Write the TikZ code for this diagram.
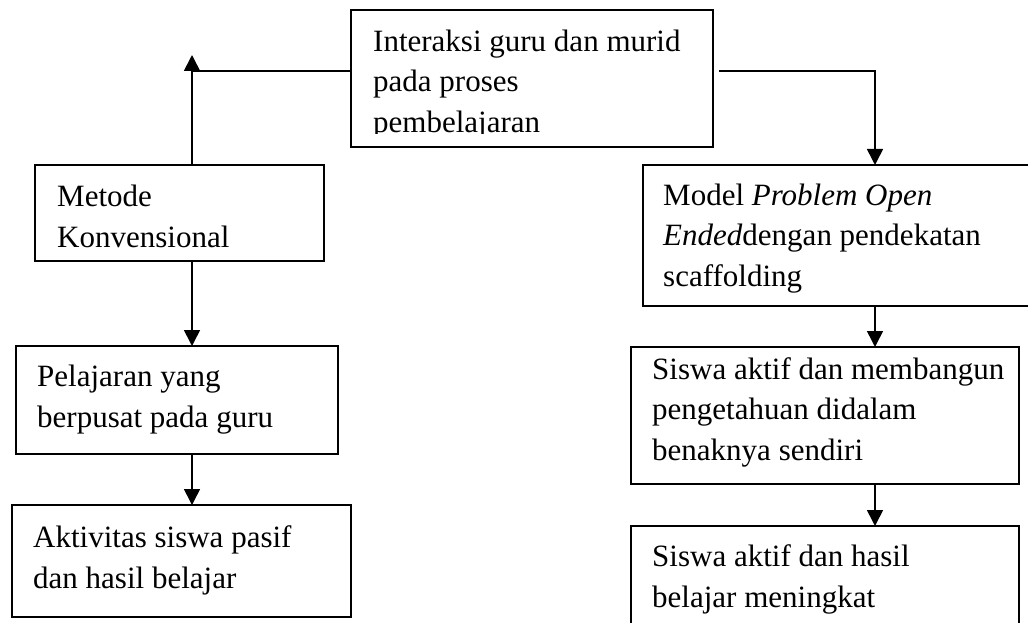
\documentclass[tikz,border=0pt]{standalone}
\usepackage{fontspec}
\setmainfont{Liberation Serif}
\usepackage{tikz}
\usetikzlibrary{arrows.meta,positioning,calc}
\tikzset{
  box/.style={draw,line width=1.6pt,anchor=north west,inner sep=0pt,outer sep=0pt},
  txt/.style={anchor=base west,align=left,inner sep=0pt,
    font=\fontsize{31}{40.5}\selectfont},
  flow/.style={-{Triangle[length=16pt,width=16pt]},line width=1.6pt},
  line/.style={line width=1.6pt}
}
\begin{document}
\begin{tikzpicture}[x=1pt,y=-1pt]
  \useasboundingbox (0,0) rectangle (1028,623);
  % Top box (last line baseline given)
  \node[box,minimum width=362pt,minimum height=137pt] (top) at (351,10) {};
  \begin{scope}
    \clip (top.north west) rectangle ($(top.south east)+(0,-13)$);
    \node[txt] (toptxt) at ($(top.north west)+(22,122)$)
      {Interaksi guru dan murid\\pada proses\\pembelajaran};
  \end{scope}
  % Left branch
  \node[box,minimum width=289pt,minimum height=96pt] (metode) at (35,165) {};
  \node[txt] (metodetxt) at ($(metode.north west)+(22,82)$)
    {Metode\\Konvensional};
  \node[box,minimum width=322pt,minimum height=108pt] (pelajaran) at (16,346) {};
  \node[txt] (pelajarantxt) at ($(pelajaran.north west)+(21,81)$)
    {Pelajaran yang\\berpusat pada guru};
  \node[box,minimum width=339pt,minimum height=112pt] (aktivitas) at (12,505) {};
  \node[txt] (aktivitastxt) at ($(aktivitas.north west)+(21,83)$)
    {Aktivitas siswa pasif\\dan hasil belajar};
  % Right branch
  \node[box,minimum width=400pt,minimum height=141pt] (model) at (643,165) {};
  \node[txt] (modeltxt) at ($(model.north west)+(20,121)$)
    {Model \textit{Problem Open}\\\textit{Ended}dengan pendekatan\\scaffolding};
  \node[box,minimum width=388pt,minimum height=137pt] (siswa) at (631,347) {};
  \node[txt] (siswatxt) at ($(siswa.north west)+(21,113)$)
    {Siswa aktif dan membangun\\pengetahuan didalam\\benaknya sendiri};
  \node[box,minimum width=388pt,minimum height=130pt] (hasil) at (631,526) {};
  \node[txt] (hasiltxt) at ($(hasil.north west)+(21,81)$)
    {Siswa aktif dan hasil\\belajar meningkat};
  % Connectors
  \coordinate (uptip) at (192,55);
  \coordinate (lj) at (192,71);
  \coordinate (rj) at (875,71);
  \draw[line] (top.west |- lj) -- (lj);
  \draw[flow,{Triangle[length=16pt,width=16pt]}-] (uptip) -- (uptip |- metode.north);
  \draw[flow] ($(top.east |- rj)+(6,0)$) -- (rj) -- (rj |- model.north);
  \draw[flow] (uptip |- metode.south) -- (uptip |- pelajaran.north);
  \draw[flow] (uptip |- pelajaran.south) -- (uptip |- aktivitas.north);
  \draw[flow] (rj |- model.south) -- (rj |- siswa.north);
  \draw[flow] (rj |- siswa.south) -- (rj |- hasil.north);
\end{tikzpicture}
\end{document}
